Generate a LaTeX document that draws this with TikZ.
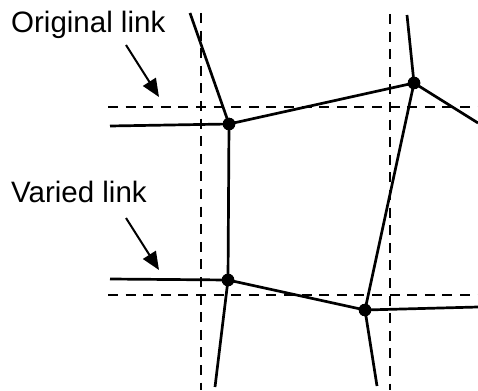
\documentclass[tikz,border=0pt]{standalone}
\usepackage{fontspec}
\setmainfont{Liberation Sans}
\usetikzlibrary{arrows.meta}
\begin{document}
\begin{tikzpicture}[x=1pt,y=-1pt,
  link/.style={line width=2.7pt},
  grid/.style={line width=2.7pt,dash pattern=on 10pt off 7.6pt},
  dot/.style={circle,fill=black,inner sep=0pt,minimum size=12.5pt},
  pointer/.style={line width=2pt,-{Triangle[length=18pt,width=15pt]}},
  label/.style={anchor=base west,inner sep=0pt,font=\fontsize{29.5}{34}\selectfont}]
\useasboundingbox (0,0) rectangle (478,390);

% reference grid
\draw[grid] (201,13) -- (201,390);
\draw[grid] (390,14) -- (390,390);
\draw[grid] (108,107) -- (478,107);
\draw[grid] (108,295) -- (478,295);

% junctions
\node[dot] (A) at (229,124) {};
\node[dot] (B) at (414,83) {};
\node[dot] (C) at (228,280) {};
\node[dot] (D) at (365,310) {};

% free ends of the links
\coordinate (a1) at (190,13);
\coordinate (a2) at (110,126);
\coordinate (b1) at (407,15);
\coordinate (b2) at (478,123);
\coordinate (c1) at (110,279);
\coordinate (c2) at (215,387);
\coordinate (d1) at (478,307);
\coordinate (d2) at (377,386);

% links
\draw[link] (a1) -- (A.center) -- (a2);
\draw[link] (A.center) -- (B.center) -- (b1);
\draw[link] (B.center) -- (b2);
\draw[link] (A.center) -- (C.center) -- (c1);
\draw[link] (C.center) -- (c2);
\draw[link] (C.center) -- (D.center) -- (B.center);
\draw[link] (D.center) -- (d1);
\draw[link] (D.center) -- (d2);

% redraw junctions on top
\node[dot] at (A) {};
\node[dot] at (B) {};
\node[dot] at (C) {};
\node[dot] at (D) {};

% labels
\node[label] (orig) at (11,33) {Original link};
\node[label] (var) at (11,202) {Varied link};
\coordinate (o1) at (126,45);
\coordinate (o2) at (159,97);
\coordinate (v1) at (126,218);
\coordinate (v2) at (159,270);
\draw[pointer] (o1) -- (o2);
\draw[pointer] (v1) -- (v2);
\end{tikzpicture}
\end{document}
